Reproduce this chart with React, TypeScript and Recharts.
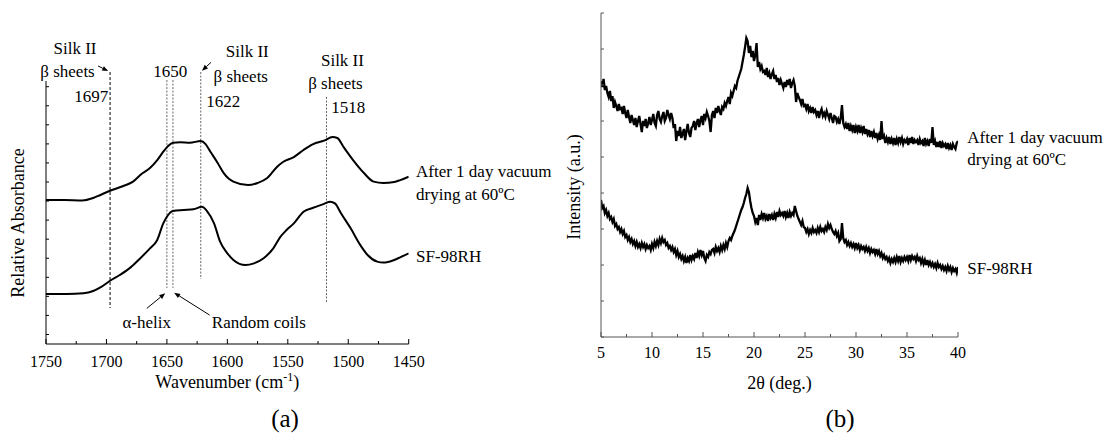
import React from 'react';
import { LineChart, Line, XAxis, YAxis, ReferenceLine, ReferenceDot } from 'recharts';

const FONT = "'Liberation Serif', 'Times New Roman', serif";

// ---------------- (a) FTIR ----------------
const wavenumberTicks = [1750, 1725, 1700, 1675, 1650, 1625, 1600, 1575, 1550, 1525, 1500, 1475, 1450];
const absorbanceTicks = [0, 1, 2, 3, 4, 5, 6, 7, 8, 9, 10, 11, 12, 13];

const ftirDriedWavenumbers = [1750, 1735, 1720, 1711, 1705, 1697, 1686, 1678, 1672, 1664, 1658, 1653, 1649, 1645, 1639, 1631, 1622, 1618, 1614, 1608, 1603, 1595, 1583, 1575, 1567, 1559, 1554, 1545, 1537, 1529, 1520, 1513, 1509, 1504, 1496, 1487, 1479, 1471, 1462, 1457, 1450];
const ftirDriedAbsorbance = [7.06, 7.06, 7.03, 7.16, 7.32, 7.54, 7.79, 8.02, 8.37, 8.73, 9.15, 9.59, 9.89, 10.06, 10.08, 10.06, 10.15, 9.99, 9.59, 9.0, 8.47, 8.02, 7.84, 7.95, 8.21, 8.79, 9.05, 9.31, 9.68, 9.99, 10.17, 10.36, 10.31, 9.85, 9.15, 8.47, 8.02, 7.95, 8.0, 8.1, 8.28];

const ftirRHWavenumbers = [1750, 1733, 1719, 1711, 1705, 1697, 1689, 1680, 1672, 1664, 1658, 1653, 1650, 1645, 1636, 1628, 1621, 1617, 1611, 1606, 1600, 1595, 1585, 1578, 1570, 1562, 1556, 1551, 1545, 1537, 1529, 1520, 1515, 1511, 1506, 1498, 1490, 1484, 1476, 1471, 1462, 1457, 1450];
const ftirRHAbsorbance = [2.12, 2.12, 2.16, 2.28, 2.47, 2.82, 3.12, 3.52, 4.0, 4.52, 4.96, 5.83, 6.18, 6.48, 6.53, 6.57, 6.7, 6.49, 5.83, 4.87, 4.26, 3.91, 3.64, 3.73, 4.0, 4.52, 5.13, 5.48, 5.83, 6.44, 6.65, 6.85, 6.97, 6.88, 6.36, 5.57, 4.69, 4.17, 3.82, 3.77, 3.91, 4.05, 4.26];

const bandSilkA = 1697;
const bandAlpha = 1650;
const bandRandom = 1645;
const bandSilkB = 1622;
const bandSilkC = 1518;

const ftirDriedRows = ftirDriedWavenumbers.map((w, i) => ({ wavenumber: w, absorbance: ftirDriedAbsorbance[i] }));
const ftirRHRows = ftirRHWavenumbers.map((w, i) => ({ wavenumber: w, absorbance: ftirRHAbsorbance[i] }));

// ---------------- (b) XRD ----------------
const twoThetaTicks = [5, 7.5, 10, 12.5, 15, 17.5, 20, 22.5, 25, 27.5, 30, 32.5, 35, 37.5, 40];
const intensityTicks = [0, 36, 72, 108, 144, 180, 216, 252, 288, 324];
const xrdStart = 5;
const xrdStep = 0.125;

// one row per degree (5°, 6°, ... 39°), 8 readings each, plus 40°
const xrdDried = [
  256, 250, 258, 247, 251, 244, 240, 246,
  236, 241, 229, 235, 231, 226, 233, 228,
  229, 223, 231, 224, 219, 227, 220, 214,
  222, 217, 212, 219, 210, 216, 221, 213,
  205, 216, 211, 218, 209, 214, 220, 212,
  217, 223, 214, 211, 222, 226, 218, 215,
  221, 225, 216, 219, 227, 222, 218, 224,
  219, 209, 213, 196, 206, 201, 210, 199,
  203, 208, 197, 206, 213, 204, 200, 209,
  211, 216, 207, 214, 218, 210, 217, 221,
  212, 223, 219, 225, 221, 216, 205, 222,
  226, 219, 229, 224, 231, 226, 222, 230,
  228, 234, 231, 236, 240, 233, 244, 241,
  246, 251, 249, 256, 260, 264, 268, 275,
  282, 290, 299, 296, 284, 291, 280, 286,
  276, 282, 294, 270, 275, 268, 271, 265,
  266, 262, 269, 260, 264, 258, 263, 266,
  258, 262, 255, 259, 252, 257, 253, 249,
  255, 250, 257, 252, 258, 249, 254, 257,
  251, 235, 244, 240, 237, 233, 238, 231,
  232, 228, 233, 226, 229, 224, 230, 225,
  227, 222, 226, 219, 225, 228, 221, 224,
  220, 226, 222, 218, 224, 219, 214, 221,
  220, 215, 218, 213, 219, 232, 214, 210,
  213, 208, 214, 206, 211, 207, 212, 204,
  210, 206, 212, 204, 209, 205, 211, 203,
  208, 203, 207, 200, 206, 201, 205, 199,
  204, 198, 202, 197, 216, 198, 201, 194,
  199, 195, 200, 193, 198, 194, 199, 192,
  198, 194, 200, 195, 199, 193, 197, 195,
  198, 192, 199, 194, 200, 193, 197, 195,
  197, 192, 198, 194, 196, 191, 199, 193,
  196, 191, 198, 194, 210, 192, 196, 190,
  195, 190, 196, 189, 194, 191, 193, 188,
  194, 189, 192, 187, 193, 190, 188, 194,
  196,
];

const xrdRH = [
  137, 129, 131, 124, 127, 121, 124, 118,
  120, 115, 118, 111, 113, 108, 110, 105,
  108, 103, 106, 100, 102, 97, 100, 95,
  98, 93, 96, 91, 95, 90, 93, 89,
  94, 90, 93, 88, 92, 89, 91, 87,
  93, 89, 95, 91, 96, 92, 98, 94,
  99, 95, 97, 92, 94, 89, 91, 87,
  90, 85, 88, 82, 86, 80, 83, 78,
  81, 76, 80, 74, 79, 76, 82, 77,
  81, 78, 84, 79, 85, 81, 87, 82,
  86, 79, 76, 82, 80, 85, 83, 87,
  88, 84, 90, 86, 89, 85, 91, 87,
  92, 88, 94, 90, 96, 99, 97, 101,
  104, 107, 111, 115, 119, 123, 127, 130,
  134, 139, 143, 149, 145, 136, 129, 124,
  121, 115, 119, 112, 122, 117, 123, 119,
  124, 118, 121, 116, 123, 119, 122, 117,
  123, 119, 125, 120, 126, 122, 124, 121,
  126, 120, 124, 119, 125, 121, 124, 122,
  131, 126, 121, 118, 115, 112, 116, 110,
  109, 105, 108, 103, 107, 104, 109, 105,
  107, 104, 109, 105, 110, 106, 108, 105,
  110, 107, 113, 109, 112, 108, 105, 103,
  106, 101, 104, 96, 98, 114, 99, 95,
  97, 92, 95, 91, 94, 90, 93, 89,
  94, 89, 92, 87, 91, 88, 90, 86,
  90, 86, 89, 84, 88, 85, 87, 83,
  88, 83, 86, 81, 84, 79, 82, 78,
  80, 76, 79, 74, 78, 75, 79, 75,
  80, 76, 81, 75, 79, 76, 80, 77,
  80, 76, 82, 77, 81, 78, 80, 76,
  81, 77, 79, 74, 78, 73, 77, 72,
  77, 72, 75, 71, 74, 70, 73, 69,
  74, 70, 72, 68, 71, 67, 70, 66,
  71, 67, 70, 65, 69, 66, 68, 64,
  70,
];

const xrdRows = xrdDried.map((v, i) => ({ angle: xrdStart + i * xrdStep, dried: v, rh: xrdRH[i] }));

const labelDried1 = 'After 1 day vacuum';
const labelDried2 = 'drying at 60ºC';
const labelRH = 'SF-98RH';

// ---------------- helpers ----------------
const makeXTick = (isMajor: (v: number) => boolean, color: string, labelDy: number) => (props: any) => {
  const { x, y, payload } = props;
  const v = payload.value;
  const major = isMajor(v);
  return (
    <g>
      <line x1={x} x2={x} y1={y} y2={y - (major ? 5 : 3)} stroke={color} strokeWidth={1} />
      {major && (
        <text x={x} y={y + labelDy} textAnchor="middle" fontFamily={FONT} fontSize={16} fill="#000">
          {v}
        </text>
      )}
    </g>
  );
};

const makeYTick = (color: string) => (props: any) => {
  const { x, y } = props;
  return <line x1={x} x2={x + 3} y1={y} y2={y} stroke={color} strokeWidth={1} />;
};

const ArrowShape = (p: any) => {
  const { x1, y1, x2, y2 } = p;
  const ang = Math.atan2(y2 - y1, x2 - x1);
  const L = 6;
  const W = 2.4;
  const bx = x2 - L * Math.cos(ang);
  const by = y2 - L * Math.sin(ang);
  const px = -Math.sin(ang) * W;
  const py = Math.cos(ang) * W;
  return (
    <g>
      <line x1={x1} y1={y1} x2={bx} y2={by} stroke="#000" strokeWidth={1} />
      <polygon points={`${x2},${y2} ${bx + px},${by + py} ${bx - px},${by - py}`} fill="#000" />
    </g>
  );
};

const noteShape = (text: string, anchor: 'start' | 'middle' | 'end') => (p: any) => (
  <text x={p.cx} y={p.cy} textAnchor={anchor} fontFamily={FONT} fontSize={17} fill="#000">
    {text}
  </text>
);

const endLabel = (lines: string[], dx: number, dy: number) => (p: any) => (
  <text x={p.cx + dx} y={p.cy + dy} fontFamily={FONT} fontSize={17} fill="#000">
    {lines.map((l, i) => (
      <tspan key={i} x={p.cx + dx} dy={i === 0 ? 0 : 22.3}>
        {l}
      </tspan>
    ))}
  </text>
);

const xTitleA = (props: any) => {
  const vb = props.viewBox;
  const cx = vb.x + vb.width / 2;
  return (
    <g>
      <text x={cx} y={vb.y + 43.5} textAnchor="middle" fontFamily={FONT} fontSize={18} fill="#000">
        Wavenumber (cm
        <tspan dy={-7} fontSize={12}>-1</tspan>
        <tspan dy={7}>)</tspan>
      </text>
      <text x={285} y={427} textAnchor="middle" fontFamily={FONT} fontSize={25} fill="#000">
        (a)
      </text>
    </g>
  );
};

const yTitleA = (props: any) => {
  const vb = props.viewBox;
  const cy = 223;
  const x = vb.x + vb.width - 22;
  return (
    <text x={x} y={cy} transform={`rotate(-90 ${x} ${cy})`} textAnchor="middle" fontFamily={FONT} fontSize={18} fill="#000">
      Relative Absorbance
    </text>
  );
};

const xTitleB = (props: any) => {
  const vb = props.viewBox;
  const cx = vb.x + vb.width / 2;
  return (
    <g>
      <text x={cx} y={vb.y + 52} textAnchor="middle" fontFamily={FONT} fontSize={18} fill="#000">
        2θ (deg.)
      </text>
      <text x={840 - 540} y={427} textAnchor="middle" fontFamily={FONT} fontSize={25} fill="#000">
        (b)
      </text>
    </g>
  );
};

const yTitleB = (props: any) => {
  const vb = props.viewBox;
  const cy = vb.y + vb.height / 2 + 12;
  const x = vb.x + vb.width - 21;
  return (
    <text x={x} y={cy} transform={`rotate(-90 ${x} ${cy})`} textAnchor="middle" fontFamily={FONT} fontSize={18} fill="#000">
      Intensity (a.u.)
    </text>
  );
};

const darkDash = { stroke: '#000', strokeWidth: 1, strokeDasharray: '3 2' };
const greyDash = { stroke: '#666', strokeWidth: 1, strokeDasharray: '2 1.5' };

export default function App() {
  return (
    <div style={{ position: 'absolute', left: 0, top: 0, width: 1112, height: 438, background: '#fff', overflow: 'hidden' }}>
      <div style={{ position: 'absolute', left: 0, top: 0 }}>
        <LineChart width={560} height={438} margin={{ top: 81, right: 151.3, bottom: 93, left: 45 }}>
          <XAxis
            dataKey="wavenumber"
            type="number"
            domain={[1450, 1750]}
            reversed
            ticks={wavenumberTicks}
            interval={0}
            height={1}
            tickSize={0}
            tickMargin={0}
            tickLine={false}
            allowDataOverflow
            axisLine={{ stroke: '#000', strokeWidth: 1 }}
            tick={makeXTick((v) => v % 50 === 0, '#000', 22.7)}
            label={{ content: xTitleA }}
          />
          <YAxis
            type="number"
            domain={[-0.5, 13.3]}
            ticks={absorbanceTicks}
            interval={0}
            width={1}
            tickSize={0}
            tickMargin={0}
            tickLine={false}
            allowDataOverflow
            axisLine={{ stroke: '#000', strokeWidth: 1 }}
            tick={makeYTick('#000')}
            label={{ content: yTitleA }}
          />
          <ReferenceLine ifOverflow="visible" segment={[{ x: bandSilkA, y: 13.77 }, { x: bandSilkA, y: 1.39 }]} {...darkDash} />
          <ReferenceLine ifOverflow="visible" segment={[{ x: bandAlpha, y: 13.35 }, { x: bandAlpha, y: 2.44 }]} {...greyDash} />
          <ReferenceLine ifOverflow="visible" segment={[{ x: bandRandom, y: 13.35 }, { x: bandRandom, y: 2.44 }]} {...greyDash} />
          <ReferenceLine ifOverflow="visible" segment={[{ x: bandSilkB, y: 13.77 }, { x: bandSilkB, y: 2.91 }]} {...greyDash} />
          <ReferenceLine ifOverflow="visible" segment={[{ x: bandSilkC, y: 12.46 }, { x: bandSilkC, y: 1.65 }]} {...greyDash} />

          <Line data={ftirDriedRows} dataKey="absorbance" type="monotone" stroke="#000" strokeWidth={2} dot={false} activeDot={false} isAnimationActive={false} />
          <Line data={ftirRHRows} dataKey="absorbance" type="monotone" stroke="#000" strokeWidth={2} dot={false} activeDot={false} isAnimationActive={false} />

          <ReferenceLine ifOverflow="visible" segment={[{ x: 1706.9, y: 14.09 }, { x: 1698.6, y: 13.82 }]} shape={ArrowShape} />
          <ReferenceLine ifOverflow="visible" segment={[{ x: 1613.5, y: 14.28 }, { x: 1621.0, y: 13.84 }]} shape={ArrowShape} />
          <ReferenceLine ifOverflow="visible" segment={[{ x: 1666.6, y: 1.37 }, { x: 1651.4, y: 2.16 }]} shape={ArrowShape} />
          <ReferenceLine ifOverflow="visible" segment={[{ x: 1614.7, y: 1.02 }, { x: 1644.0, y: 2.19 }]} shape={ArrowShape} />

          <ReferenceDot ifOverflow="visible" x={1726} y={14.71} r={1} shape={noteShape('Silk II', 'middle')} />
          <ReferenceDot ifOverflow="visible" x={1732.2} y={13.49} r={1} shape={noteShape('β sheets', 'middle')} />
          <ReferenceDot ifOverflow="visible" x={1698.6} y={12.21} r={1} shape={noteShape(String(bandSilkA), 'end')} />
          <ReferenceDot ifOverflow="visible" x={1647.3} y={13.51} r={1} shape={noteShape(String(bandAlpha), 'middle')} />
          <ReferenceDot ifOverflow="visible" x={1583.5} y={14.56} r={1} shape={noteShape('Silk II', 'middle')} />
          <ReferenceDot ifOverflow="visible" x={1588.9} y={13.26} r={1} shape={noteShape('β sheets', 'middle')} />
          <ReferenceDot ifOverflow="visible" x={1617.4} y={11.95} r={1} shape={noteShape(String(bandSilkB), 'start')} />
          <ReferenceDot ifOverflow="visible" x={1504.8} y={14.1} r={1} shape={noteShape('Silk II', 'middle')} />
          <ReferenceDot ifOverflow="visible" x={1510.6} y={12.88} r={1} shape={noteShape('β sheets', 'middle')} />
          <ReferenceDot ifOverflow="visible" x={1514.1} y={11.6} r={1} shape={noteShape(String(bandSilkC), 'start')} />
          <ReferenceDot ifOverflow="visible" x={1666.7} y={0.32} r={1} shape={noteShape('α-helix', 'middle')} />
          <ReferenceDot ifOverflow="visible" x={1574} y={0.32} r={1} shape={noteShape('Random coils', 'middle')} />

          <ReferenceDot
            ifOverflow="visible"
            x={ftirDriedWavenumbers[ftirDriedWavenumbers.length - 1]}
            y={ftirDriedAbsorbance[ftirDriedAbsorbance.length - 1]}
            r={1}
            shape={endLabel([labelDried1, labelDried2], 7.3, 0.6)}
          />
          <ReferenceDot
            ifOverflow="visible"
            x={ftirRHWavenumbers[ftirRHWavenumbers.length - 1]}
            y={ftirRHAbsorbance[ftirRHAbsorbance.length - 1]}
            r={1}
            shape={endLabel([labelRH], 7.3, 8.4)}
          />
        </LineChart>
      </div>

      <div style={{ position: 'absolute', left: 540, top: 0 }}>
        <LineChart width={572} height={438} data={xrdRows} margin={{ top: 13, right: 154, bottom: 100, left: 60 }}>
          <XAxis
            dataKey="angle"
            type="number"
            domain={[5, 40]}
            ticks={twoThetaTicks}
            interval={0}
            height={1}
            tickSize={0}
            tickMargin={0}
            tickLine={false}
            allowDataOverflow
            axisLine={{ stroke: '#555', strokeWidth: 1 }}
            tick={makeXTick((v) => v % 5 === 0, '#555', 21)}
            label={{ content: xTitleB }}
          />
          <YAxis
            type="number"
            domain={[0, 324]}
            ticks={intensityTicks}
            interval={0}
            width={1}
            tickSize={0}
            tickMargin={0}
            tickLine={false}
            allowDataOverflow
            axisLine={{ stroke: '#555', strokeWidth: 1 }}
            tick={makeYTick('#555')}
            label={{ content: yTitleB }}
          />
          <Line dataKey="dried" type="linear" stroke="#000" strokeWidth={2.3} dot={false} activeDot={false} isAnimationActive={false} />
          <Line dataKey="rh" type="linear" stroke="#000" strokeWidth={2.3} dot={false} activeDot={false} isAnimationActive={false} />
          <ReferenceDot
            ifOverflow="visible"
            x={40}
            y={xrdDried[xrdDried.length - 1]}
            r={1}
            shape={endLabel([labelDried1, labelDried2], 9.3, 1.7)}
          />
          <ReferenceDot
            ifOverflow="visible"
            x={40}
            y={xrdRH[xrdRH.length - 1]}
            r={1}
            shape={endLabel([labelRH], 9.3, 7.3)}
          />
        </LineChart>
      </div>
    </div>
  );
}
